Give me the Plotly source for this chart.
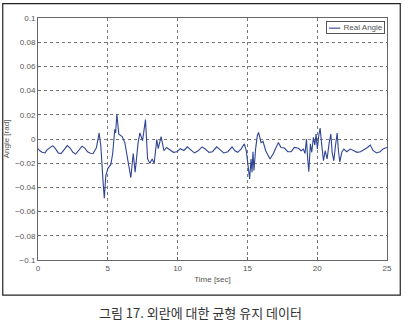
import plotly.graph_objects as go

time_sec = [0.0, 0.15, 0.3, 0.5, 0.65, 0.85, 1.05, 1.25, 1.45, 1.65, 1.85, 2.1, 2.3, 2.5, 2.7, 2.9,
            3.15, 3.35, 3.55, 3.75, 3.95, 4.19, 4.38, 4.5, 4.59, 4.66, 4.75, 4.86, 5.02, 5.22, 5.35,
            5.5, 5.56, 5.65, 5.79, 6.03, 6.22, 6.46, 6.65, 6.82, 6.96, 7.17, 7.30, 7.49, 7.70, 7.85,
            8.01, 8.18, 8.32, 8.51, 8.61, 8.82, 9.02, 9.21, 9.45, 9.7, 9.95, 10.2, 10.45, 10.7, 10.95,
            11.2, 11.45, 11.75, 12.0, 12.25, 12.5, 12.8, 13.05, 13.3, 13.6, 13.9, 14.11, 14.30, 14.54,
            14.78, 14.92, 15.07, 15.16, 15.26, 15.33, 15.40, 15.47, 15.59, 15.71, 15.80, 15.98, 16.12,
            16.31, 16.62, 16.86, 17.05, 17.22, 17.41, 17.65, 17.89, 18.13, 18.37, 18.65, 18.85, 19.01,
            19.13, 19.23, 19.32, 19.40, 19.51, 19.61, 19.73, 19.83, 19.92, 20.01, 20.11, 20.21, 20.33,
            20.45, 20.57, 20.71, 20.86, 20.98, 21.07, 21.19, 21.31, 21.43, 21.52, 21.62, 21.76, 21.91,
            22.12, 22.36, 22.6, 22.85, 23.1, 23.35, 23.6, 23.8, 24.0, 24.25, 24.5, 24.75, 25.0]

real_angle = [-0.008, -0.010, -0.011, -0.0115, -0.009, -0.007, -0.0055, -0.008, -0.0115, -0.012,
              -0.0095, -0.0055, -0.0075, -0.011, -0.0125, -0.010, -0.006, -0.0075, -0.0105, -0.0118,
              -0.012, -0.007, 0.005, -0.0055, -0.026, -0.035, -0.049, -0.030, -0.024, -0.021, -0.012,
              0.008, 0.005, 0.0205, 0.004, 0.002, -0.003, -0.019, -0.032, -0.012, -0.0275, -0.003,
              0.005, -0.0014, 0.016, -0.0165, -0.020, -0.0165, -0.020, -0.0005, -0.008, 0.002,
              -0.0097, -0.007, -0.009, -0.011, -0.0105, -0.008, -0.0095, -0.0065, -0.009, -0.0115,
              -0.010, -0.0065, -0.0085, -0.011, -0.0105, -0.0065, -0.009, -0.0115, -0.0105, -0.0065,
              -0.0097, -0.011, -0.0083, -0.004, -0.0097, -0.0234, -0.033, -0.0165, -0.0275, -0.0105,
              -0.026, -0.008, 0.0027, 0.0055, -0.003, -0.002, -0.0097, -0.0165, -0.012, -0.007,
              -0.003, -0.007, -0.0075, -0.0105, -0.0105, -0.007, -0.0077, -0.0097, -0.0083, -0.012,
              0.0, -0.0165, -0.027, -0.004, -0.011, 0.0014, -0.005, 0.004, -0.0083, 0.0027, 0.009,
              -0.0055, -0.018, -0.0097, -0.0165, -0.003, 0.004, -0.011, -0.018, -0.0055, 0.005,
              -0.0097, -0.019, -0.011, -0.0083, -0.0105, -0.0083, -0.0095, -0.011, -0.0105, -0.009,
              -0.007, -0.005, -0.0095, -0.0115, -0.0105, -0.008, -0.007]

x_ticks = [0, 5, 10, 15, 20, 25]
y_ticks = [0.1, 0.08, 0.06, 0.04, 0.02, 0, -0.02, -0.04, -0.06, -0.08, -0.1]

series_name = "Real Angle"
x_title = "Time [sec]"
y_title = "Angle [rad]"
caption = "그림 17. 외란에 대한 균형 유지 데이터"

line_color = "#2f4593"
label_font = dict(family="Liberation Sans, Arial, sans-serif", size=8, color="#555555")

fig = go.Figure()
fig.add_trace(go.Scatter(
    x=time_sec, y=real_angle, mode="lines", name=series_name,
    line=dict(color=line_color, width=1.1), showlegend=False,
))

axis_common = dict(
    showgrid=True, gridcolor="#777777", griddash="dot", gridwidth=0.6,
    showline=True, linecolor="#666666", linewidth=1, mirror=True,
    ticks="inside", ticklen=3, tickcolor="#666666",
    zeroline=False, tickfont=label_font, automargin=False,
)

fig.update_xaxes(range=[0, 25], tickvals=x_ticks,
                 title=dict(text=x_title, font=label_font, standoff=4), **axis_common)
fig.update_yaxes(range=[-0.1, 0.1], tickvals=y_ticks,
                 title=dict(text=y_title, font=label_font, standoff=4), **axis_common)

fig.update_layout(
    width=405, height=324,
    margin=dict(l=38, r=18, t=18, b=64),
    paper_bgcolor="white", plot_bgcolor="white",
    showlegend=False,
    shapes=[
        dict(type="rect", xref="paper", yref="paper",
             x0=-0.101, x1=1.038, y0=-0.145, y1=1.059,
             line=dict(color="#222222", width=1.2), fillcolor="rgba(0,0,0,0)"),
        dict(type="line", xref="paper", yref="paper",
             x0=0.834, x1=0.866, y0=0.958, y1=0.958,
             line=dict(color=line_color, width=1.1), layer="above"),
    ],
    annotations=[
        dict(text="\u00a0\u00a0\u00a0\u00a0\u00a0\u00a0\u00a0" + series_name, xref="paper", yref="paper",
             x=0.995, y=0.987, xanchor="right", yanchor="top", showarrow=False,
             bgcolor="rgba(0,0,0,0)", bordercolor="#555555", borderwidth=1, borderpad=1,
             font=label_font),
        dict(text=caption, xref="paper", yref="paper", x=0.467, y=-0.219,
             showarrow=False, xanchor="center", yanchor="middle",
             font=dict(family="Noto Sans CJK KR", size=13, color="#333333")),
    ],
)

fig.write_html("out.html", config={"displayModeBar": False},
               post_script="document.body.style.margin='0';")
